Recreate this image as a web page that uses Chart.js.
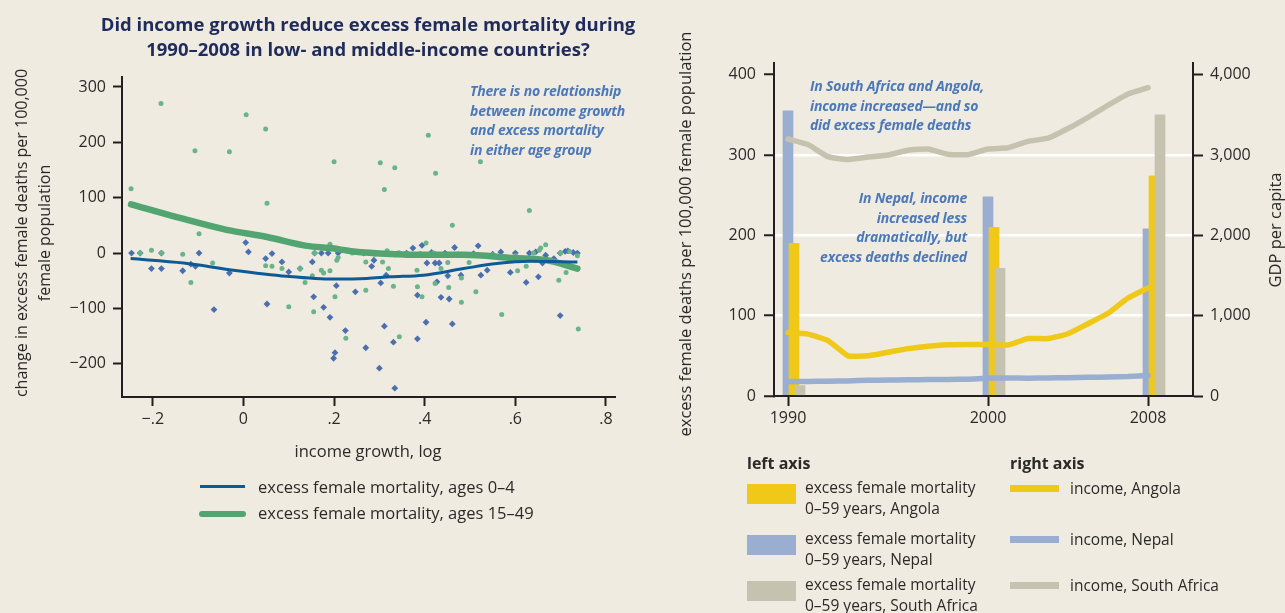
<!DOCTYPE html>
<html>
<head>
<meta charset="utf-8">
<script src="https://cdn.jsdelivr.net/npm/chart.js@4.4.1/dist/chart.umd.min.js"></script>
<style>
  body { margin: 0; background: #efebe1; font-family: "Open Sans", "Noto Sans", sans-serif; color: #2b2a28; }
  #page { position: relative; width: 1285px; height: 613px; overflow: hidden; }
  canvas { position: absolute; }
  .t { position: absolute; white-space: nowrap; font-size: 15.5px; line-height: 22px; }
  .big { font-size: 16.5px; }
  .note { position: absolute; white-space: nowrap; font-style: italic; font-weight: 700; font-size: 14px; line-height: 19.5px; color: #4a78b8; letter-spacing: -0.2px; }
  .rot { position: absolute; transform: rotate(-90deg); text-align: center; font-size: 16px; white-space: nowrap; }
  .sw { position: absolute; }
</style>
</head>
<body>
<div id="page">
  <canvas id="scatterChart" width="640" height="470" style="left:0;top:0"></canvas>
  <canvas id="countryChart" width="645" height="470" style="left:640px;top:0"></canvas>

  <!-- left panel text -->
  <div class="t" style="left:48px;top:11px;width:640px;text-align:center;font-weight:700;font-size:18.5px;line-height:25px;color:#1f2b5b">
    Did income growth reduce excess female mortality during<br>1990–2008 in low- and middle-income countries?
  </div>
  <div class="rot" style="left:-167px;top:210px;width:400px;line-height:23px">
    change in excess female deaths per 100,000<br>female population
  </div>
  <div class="t big" style="left:248px;top:440px;width:240px;text-align:center">income growth, log</div>
  <div class="note" style="left:470px;top:81px">There is no relationship<br>between income growth<br>and excess mortality<br>in either age group</div>

  <div class="sw" style="left:200px;top:485px;width:45px;height:3px;background:#0d5a95"></div>
  <div class="t big" style="left:258px;top:476px">excess female mortality, ages 0–4</div>
  <div class="sw" style="left:199px;top:511px;width:47px;height:6px;border-radius:3px;background:#52a571"></div>
  <div class="t big" style="left:258px;top:502px">excess female mortality, ages 15–49</div>

  <!-- right panel text -->
  <div class="rot" style="left:445px;top:224px;width:480px;line-height:20px;font-size:16.5px">excess female deaths per 100,000 female population</div>
  <div class="rot" style="left:1175px;top:220px;width:200px;line-height:20px;font-size:16.5px">GDP per capita</div>
  <div class="note" style="left:810px;top:76px">In South Africa and Angola,<br>income increased—and so<br>did excess female deaths</div>
  <div class="note" style="left:767px;top:188px;width:200px;text-align:right">In Nepal, income<br>increased less<br>dramatically, but<br>excess deaths declined</div>

  <div class="t" style="left:747px;top:452px;font-weight:700;font-size:16px">left axis</div>
  <div class="t" style="left:1010px;top:452px;font-weight:700;font-size:16px">right axis</div>

  <div class="sw" style="left:747px;top:484px;width:49px;height:20px;background:#efc818"></div>
  <div class="t" style="left:805px;top:477px;line-height:21px">excess female mortality<br>0–59 years, Angola</div>
  <div class="sw" style="left:747px;top:535px;width:49px;height:20px;background:#9aaed2"></div>
  <div class="t" style="left:805px;top:528px;line-height:21px">excess female mortality<br>0–59 years, Nepal</div>
  <div class="sw" style="left:747px;top:581px;width:49px;height:20px;background:#c5c3af"></div>
  <div class="t" style="left:805px;top:574px;line-height:21px">excess female mortality<br>0–59 years, South Africa</div>

  <div class="sw" style="left:1010px;top:485px;width:49px;height:7px;background:#efc818"></div>
  <div class="t" style="left:1070px;top:477px">income, Angola</div>
  <div class="sw" style="left:1010px;top:536px;width:49px;height:7px;background:#9aaed2"></div>
  <div class="t" style="left:1070px;top:528px">income, Nepal</div>
  <div class="sw" style="left:1010px;top:582px;width:49px;height:7px;background:#c5c3af"></div>
  <div class="t" style="left:1070px;top:574px">income, South Africa</div>
</div>

<script>
// --- left panel: income growth vs change in excess female mortality ---
const growth04 = [-0.247, -0.228, -0.203, -0.181, -0.181, -0.134, -0.116, -0.106, -0.098, -0.065,
  -0.031, 0.005, 0.011, 0.049, 0.063, 0.052, 0.085, 0.100, 0.125, 0.152, 0.155, 0.157, 0.172, 0.177,
  0.187, 0.191, 0.205, 0.202, 0.199, 0.209, 0.225, 0.247, 0.270, 0.283, 0.288, 0.300, 0.303, 0.311,
  0.315, 0.331, 0.334, 0.265, 0.341, 0.345, 0.374, 0.384, 0.384, 0.394, 0.403, 0.405, 0.423, 0.427,
  0.432, 0.436, 0.451, 0.454, 0.461, 0.466, 0.480, 0.518, 0.524, 0.538, 0.508, 0.568, 0.589, 0.624,
  0.631, 0.651, 0.660, 0.667, 0.685, 0.699, 0.699, 0.716, 0.737, 0.360, 0.390, 0.415, 0.445, 0.475,
  0.550, 0.600, 0.645, 0.710, 0.728];
const change04 = [0, 0, -28, -28, 0, -32, -20, -24, 0, -102,
  -36, 19, 2, -10, -1, -92, -16, -34, -28, -16, -79, 0, 0, -98,
  0, -116, -59, -180, -190, 0, -140, -70, -171, -24, -13, -208, -54, -132,
  -40, -161, -244, 0, -1, -1, 9, -155, -76, 14, -125, -18, -18, -52,
  -18, -80, -41, -83, -128, 10, -40, 13, -40, -31, -1, 2, -35, -53,
  0, -43, -18, -4, -10, -113, 0, 4, 0, 0, -2, 1, 0, -3,
  -2, 0, 2, 3, 1];

const growth1549 = [-0.248, -0.182, -0.107, -0.031, 0.006, 0.049, 0.052, 0.200, 0.302, 0.311,
  0.334, -0.098, -0.203, -0.134, -0.068, 0.191, 0.408, 0.424, 0.523, 0.631, 0.461, 0.667, -0.228,
  -0.181, -0.116, 0.049, 0.063, 0.085, 0.100, 0.125, 0.136, 0.152, 0.155, 0.172, 0.177, 0.191,
  0.202, 0.206, 0.226, 0.270, 0.270, 0.307, 0.317, 0.320, 0.331, 0.344, 0.403, 0.383, 0.384,
  0.394, 0.423, 0.436, 0.451, 0.453, 0.481, 0.481, 0.498, 0.513, 0.570, 0.605, 0.624, 0.653,
  0.656, 0.696, 0.712, 0.739, 0.737, 0.157, 0.209, 0.240, 0.290, 0.360, 0.420, 0.470, 0.550,
  0.600, 0.640, 0.700, 0.720];
const change1549 = [116, 270, 185, 183, 250, 224, 90, 165, 163, 115,
  154, 35, 5, -2, -18, 16, 213, 144, 165, 77, 50, 15, 0,
  0, -53, -23, -24, -28, -97, -28, -53, -41, -106, -31, -36, -32,
  -79, -13, -154, -16, -67, -16, 4, -28, -60, -151, 18, -31, -61,
  -79, -55, -28, -17, -62, -89, -45, -17, -70, -111, -32, -24, 5,
  9, -49, -35, -137, -5, 0, -8, 0, -2, -1, 0, -2, -3,
  -5, 0, 0, 3];

// smoothed fits
const fitX04 = [-0.249, -0.132, -0.022, 0.096, 0.199, 0.272, 0.324, 0.397, 0.486, 0.559, 0.633, 0.737];
const fit04 = [-10, -18, -31, -42, -47, -46, -43, -40, -28, -19, -15, -16];
const fitX1549 = [-0.248, -0.147, -0.037, 0.052, 0.140, 0.191, 0.243, 0.339, 0.375, 0.486, 0.596, 0.670, 0.737];
const fit1549 = [88, 65, 42, 29, 13, 9, 3, -2, -3, -3, -9, -13, -28];

const growthTicks = [-0.2, 0, 0.2, 0.4, 0.6, 0.8];
const changeTicks = [-200, -100, 0, 100, 200, 300];

// --- right panel: Angola, Nepal, South Africa ---
const barYears = [1990, 2000, 2008];
const deathsAngola = [190, 210, 274];
const deathsNepal = [355, 248, 208];
const deathsSouthAfrica = [13, 159, 350];

const years = [1990, 1991, 1992, 1993, 1994, 1995, 1996, 1997, 1998, 1999,
  2000, 2001, 2002, 2003, 2004, 2005, 2006, 2007, 2008];
const gdpAngola = [790, 770, 690, 500, 500, 545, 590, 620, 638, 642,
  640, 635, 715, 715, 775, 900, 1030, 1220, 1345];
const gdpNepal = [180, 182, 185, 188, 195, 198, 202, 205, 206, 210,
  220, 225, 222, 224, 228, 232, 236, 242, 255];
const gdpSouthAfrica = [3200, 3130, 2980, 2945, 2975, 3000, 3060, 3075, 3010, 3005,
  3075, 3090, 3170, 3210, 3330, 3470, 3620, 3760, 3840];

const deathTicks = [0, 100, 200, 300, 400];
const gdpTicks = [0, 1000, 2000, 3000, 4000];

const INK = '#231f20';
const TICK_FONT = { family: '"Open Sans", "Noto Sans", sans-serif', size: 16 };

const pairs = (xs, ys) => xs.map((x, i) => ({ x: x, y: ys[i] }));
const useTicks = list => scale => { scale.ticks = list.map(v => ({ value: v })); };
const minus = s => s.replace('-', '\u2212');

function fmtGrowth(v) {
  if (v === 0) return '0';
  const s = Math.abs(v).toFixed(1).replace(/^0/, '');
  return v < 0 ? '\u2212' + s : s;
}

function axisStyle(extra) {
  return Object.assign({
    offset: false,
    border: { display: true, color: INK, width: 2 },
    grid: { offset: false, drawOnChartArea: false, tickLength: 9, tickWidth: 2, tickColor: INK },
    ticks: { color: '#2b2a28', font: TICK_FONT, padding: 7, maxRotation: 0, autoSkip: false }
  }, extra);
}

new Chart(document.getElementById('scatterChart'), {
  type: 'scatter',
  data: {
    datasets: [
      {
        type: 'line', label: 'excess female mortality, ages 0–4',
        data: pairs(fitX04, fit04), borderColor: '#0d5a95', borderWidth: 3,
        pointRadius: 0, cubicInterpolationMode: 'monotone', order: 0
      },
      {
        type: 'line', label: 'excess female mortality, ages 15–49',
        data: pairs(fitX1549, fit1549), borderColor: '#52a571', borderWidth: 6.5,
        pointRadius: 0, cubicInterpolationMode: 'monotone', borderCapStyle: 'round', order: 1
      },
      {
        label: 'ages 0–4', data: pairs(growth04, change04),
        pointStyle: 'rectRot', pointRadius: 3.4, backgroundColor: '#4a6fae',
        borderWidth: 0, order: 3
      },
      {
        label: 'ages 15–49', data: pairs(growth1549, change1549),
        pointStyle: 'circle', pointRadius: 2.5, backgroundColor: '#6ab489',
        borderWidth: 0, order: 2
      }
    ]
  },
  options: {
    responsive: false,
    animation: false,
    layout: { padding: { top: 77, right: 25, left: 0, bottom: 0 } },
    plugins: { legend: { display: false }, tooltip: { enabled: false } },
    scales: {
      x: axisStyle({
        type: 'linear', min: -0.268, max: 0.82,
        afterBuildTicks: useTicks(growthTicks),
        afterFit: s => { s.height = 73; },
        ticks: { color: '#2b2a28', font: TICK_FONT, padding: 4, maxRotation: 0, autoSkip: false, callback: fmtGrowth }
      }),
      y: axisStyle({
        min: -260, max: 318,
        afterBuildTicks: useTicks(changeTicks),
        afterFit: s => { s.width = 122; },
        ticks: { color: '#2b2a28', font: TICK_FONT, padding: 7, autoSkip: false, callback: v => minus(String(v)) }
      })
    }
  }
});

// bar groups sit side by side: each country gets its own hidden x axis nudged by a few pixels
const X_MIN = 1989.3, X_MAX = 2010.25;
const hiddenX = shift => ({
  type: 'linear', display: false, offset: false, grid: { offset: false },
  min: X_MIN - shift, max: X_MAX - shift
});

function barSet(label, values, color, axis, order) {
  return {
    type: 'bar', label: label, data: pairs(barYears, values),
    backgroundColor: color, borderWidth: 0, barThickness: 10, grouped: false,
    xAxisID: axis, yAxisID: 'y', order: order
  };
}
function lineSet(label, values, color) {
  return {
    type: 'line', label: label, data: pairs(years, values),
    borderColor: color, borderWidth: 5.5, pointRadius: 0, tension: 0.15,
    borderCapStyle: 'round', borderJoinStyle: 'round',
    xAxisID: 'x', yAxisID: 'y2', order: 0
  };
}

new Chart(document.getElementById('countryChart'), {
  type: 'bar',
  data: {
    datasets: [
      lineSet('income, Angola', gdpAngola, '#efc818'),
      lineSet('income, Nepal', gdpNepal, '#9aaed2'),
      lineSet('income, South Africa', gdpSouthAfrica, '#c5c3af'),
      barSet('excess female mortality 0–59 years, South Africa', deathsSouthAfrica, '#c5c3af', 'xS', 1),
      barSet('excess female mortality 0–59 years, Angola', deathsAngola, '#efc818', 'xA', 2),
      barSet('excess female mortality 0–59 years, Nepal', deathsNepal, '#9aaed2', 'x', 3)
    ]
  },
  options: {
    responsive: false,
    animation: false,
    layout: { padding: { top: 63, right: 0, left: 0, bottom: 0 } },
    plugins: { legend: { display: false }, tooltip: { enabled: false } },
    scales: {
      x: axisStyle({
        type: 'linear', min: X_MIN, max: X_MAX,
        afterBuildTicks: useTicks(barYears),
        afterFit: s => { s.height = 74; },
        grid: { offset: false, drawOnChartArea: false, tickLength: 10, tickWidth: 2, tickColor: INK },
        ticks: { color: '#2b2a28', font: TICK_FONT, padding: 3, maxRotation: 0, autoSkip: false, callback: v => String(v) }
      }),
      xA: hiddenX(0.3),
      xS: hiddenX(0.6),
      y: axisStyle({
        position: 'left', min: 0, max: 414.6,
        afterBuildTicks: useTicks(deathTicks),
        afterFit: s => { s.width = 134; },
        grid: {
          drawOnChartArea: true, lineWidth: 2.5, tickLength: 10, tickWidth: 2, tickColor: INK,
          color: ctx => (ctx.tick && ctx.tick.value > 0 && ctx.tick.value < 400) ? '#ffffff' : 'rgba(0,0,0,0)'
        },
        ticks: { color: '#2b2a28', font: TICK_FONT, padding: 8, autoSkip: false }
      }),
      y2: axisStyle({
        position: 'right', min: 0, max: 4146,
        afterBuildTicks: useTicks(gdpTicks),
        afterFit: s => { s.width = 92; },
        grid: { drawOnChartArea: false, tickLength: 10, tickWidth: 2, tickColor: INK },
        ticks: { color: '#2b2a28', font: TICK_FONT, padding: 7, autoSkip: false, callback: v => v.toLocaleString('en-US') }
      })
    }
  }
});
</script>
</body>
</html>
